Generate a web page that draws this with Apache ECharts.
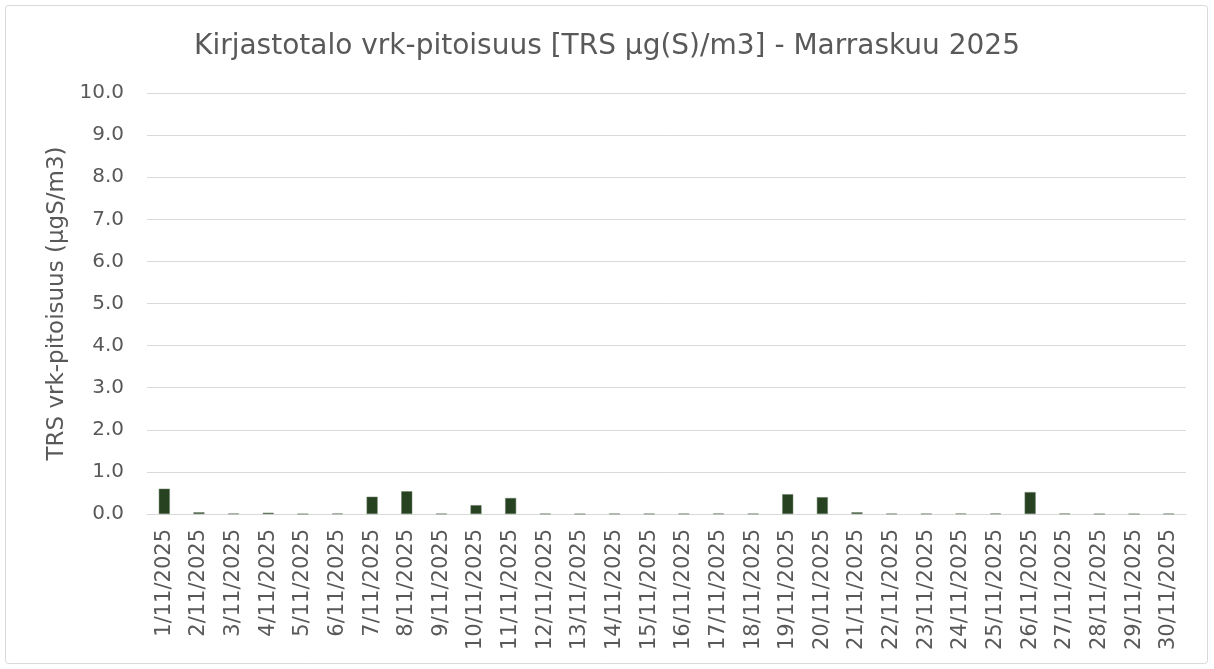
<!DOCTYPE html>
<html><head><meta charset="utf-8">
<script src="https://cdn.jsdelivr.net/npm/echarts@6/dist/echarts.min.js"></script>
<style>html,body{margin:0;padding:0;background:#fff}#c{width:1214px;height:669px}</style>
</head><body><div id="c"></div>
<script>
const titleText = 'Kirjastotalo vrk-pitoisuus [TRS µg(S)/m3] - Marraskuu 2025';
const yAxisName = 'TRS vrk-pitoisuus (µgS/m3)';
const categories = ['1/11/2025','2/11/2025','3/11/2025','4/11/2025','5/11/2025','6/11/2025','7/11/2025','8/11/2025','9/11/2025','10/11/2025','11/11/2025','12/11/2025','13/11/2025','14/11/2025','15/11/2025','16/11/2025','17/11/2025','18/11/2025','19/11/2025','20/11/2025','21/11/2025','22/11/2025','23/11/2025','24/11/2025','25/11/2025','26/11/2025','27/11/2025','28/11/2025','29/11/2025','30/11/2025'];
const values = [0.6,0.04,0.01,0.03,0.0,0.01,0.41,0.54,0.005,0.21,0.38,0.005,0.0,0.005,0.005,0.005,0.01,0.005,0.47,0.4,0.04,0.005,0.005,0.01,0.01,0.52,0.01,0.0,0.0,0.005];
const chart = echarts.init(document.getElementById('c'));
const font = 'DejaVu Sans';
chart.setOption({
  backgroundColor: '#fff',
  animation: false,
  graphic: [{type:'rect', shape:{x:5.5,y:5.5,width:1202,height:658,r:3}, style:{fill:'none',stroke:'#d9d9d9',lineWidth:1}, silent:true}],
  title: {text:titleText, left:'center', top:28, textStyle:{fontFamily:font, fontSize:28, fontWeight:'normal', color:'#595959'}},
  grid: {left:147, right:28, top:93, bottom:155},
  xAxis: {type:'category', data:categories, axisLine:{lineStyle:{color:'#d9d9d9'}}, axisTick:{show:false},
    axisLabel:{rotate:90, interval:0, fontFamily:font, fontSize:21, color:'#595959', margin:15}},
  yAxis: {type:'value', min:0, max:10, interval:1, name:yAxisName, nameLocation:'middle', nameGap:76, nameRotate:90,
    nameTextStyle:{fontFamily:font, fontSize:23, color:'#595959'},
    axisLabel:{formatter:v=>v.toFixed(1), fontFamily:font, fontSize:20, color:'#595959', margin:23},
    splitLine:{lineStyle:{color:'#d9d9d9'}}, axisLine:{show:false}, axisTick:{show:false}},
  series: [{type:'bar', data:values, barWidth:11, itemStyle:{color:'#264220', borderColor:'#6b7d66', borderWidth:0.5}}]
});
</script></body></html>
